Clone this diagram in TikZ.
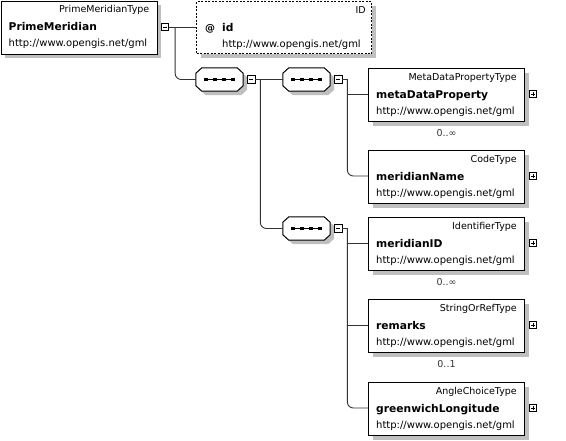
\documentclass[tikz,border=0pt]{standalone}
\usepackage{fontspec}
\setmainfont{DejaVu Sans}
\usetikzlibrary{shadows, positioning}

\newcommand{\gmlns}{http://www.opengis.net/gml}
% box of an element: name, position, type, label
\newcommand{\elembox}[4]{%
  \node[elem] (#1) at (#2) {};
  \node[typetxt] (#1-type) at ([xshift=-8pt,yshift=-12pt]#1.north east) {#3};
  \node[nametxt] (#1-name) at ([xshift=8pt,yshift=-30pt]#1.north west) {#4};
  \node[urltxt] (#1-url) at ([xshift=8pt,yshift=-46pt]#1.north west) {\gmlns};
}

\begin{document}
\begin{tikzpicture}[x=1pt,y=-1pt,
  boxshadow/.style={drop shadow={shadow xshift=4pt,shadow yshift=-4pt,fill=black!25,opacity=1}},
  elem/.style={draw, fill=white, line width=1pt, anchor=north west, inner sep=0pt,
    minimum width=156pt, minimum height=53pt, boxshadow},
  attr/.style={elem, dash pattern=on 2pt off 1.5pt, minimum width=175pt, minimum height=52pt},
  seq/.style={inner sep=0pt, minimum width=47pt, minimum height=23pt},
  octa/.style={draw, fill=white, line width=1pt, boxshadow},
  typetxt/.style={inner sep=0pt, anchor=base east, font=\fontsize{9.5}{11}\selectfont},
  nametxt/.style={inner sep=0pt, anchor=base west, font=\fontsize{10.7}{12}\selectfont\bfseries},
  urltxt/.style={inner sep=0pt, anchor=base west, font=\fontsize{10}{12}\selectfont},
  card/.style={inner sep=0pt, anchor=base, text=black!80, font=\fontsize{9.5}{11}\selectfont},
  pmbox/.style={draw, fill=white, line width=0.8pt, inner sep=0pt, minimum size=7.5pt},
  minusbox/.style={pmbox, path picture={\draw[line width=0.8pt]
    ([xshift=1.6pt]path picture bounding box.west) -- ([xshift=-1.6pt]path picture bounding box.east);}},
  plusbox/.style={pmbox, path picture={\draw[line width=0.7pt]
    ([xshift=1.6pt]path picture bounding box.west) -- ([xshift=-1.6pt]path picture bounding box.east)
    ([yshift=-1.6pt]path picture bounding box.north) -- ([yshift=1.6pt]path picture bounding box.south);}},
  conn/.style={draw=black!80, line width=0.9pt}
]
\useasboundingbox (0,0) rectangle (566,440);

% root element and its attribute
\elembox{pm}{0.5,0.5}{PrimeMeridianType}{PrimeMeridian}
\node[minusbox] (pm-minus) at ([xshift=7.5pt,yshift=-26.5pt]pm.north east) {};

\node[attr] (id) at (196,1) {};
\node[typetxt] (id-type) at ([xshift=-6pt,yshift=-12pt]id.north east) {ID};
\node[urltxt, font=\fontsize{10}{12}\selectfont\bfseries] (id-at) at ([xshift=9pt,yshift=-30pt]id.north west) {@};
\node[nametxt] (id-name) at ([xshift=26pt,yshift=-30pt]id.north west) {id};
\node[urltxt] (id-url) at ([xshift=26pt,yshift=-46pt]id.north west) {\gmlns};

% sequences
\node[seq] (seq1) at (219.5,79.5) {};
\node[seq] (seq2) at (306.5,79.5) {};
\node[seq] (seq3) at (306.5,228.5) {};
\foreach \s in {seq1,seq2,seq3} {
  \draw[octa] ([xshift=6pt]\s.north west) -- ([xshift=-6pt]\s.north east)
    -- ([yshift=-5.5pt]\s.north east) -- ([yshift=5.5pt]\s.south east)
    -- ([xshift=-6pt]\s.south east) -- ([xshift=6pt]\s.south west)
    -- ([yshift=5.5pt]\s.south west) -- ([yshift=-5.5pt]\s.north west) -- cycle;
  \node[minusbox] (\s-minus) at ([xshift=8pt]\s.east) {};
  \draw[line width=0.8pt] ([xshift=-13.5pt]\s.center) -- ([xshift=13.5pt]\s.center);
  \foreach \d in {-13.5,-4.5,4.5,13.5}
    \fill ([xshift=\d pt]\s.center) +(-1.7pt,-1.7pt) rectangle +(1.7pt,1.7pt);
}

% child elements
\elembox{mdp}{368,68}{MetaDataPropertyType}{metaDataProperty}
\elembox{mname}{368,150}{CodeType}{meridianName}
\elembox{mid}{368,217}{IdentifierType}{meridianID}
\elembox{rem}{368,299}{StringOrRefType}{remarks}
\elembox{gl}{368,382}{AngleChoiceType}{greenwichLongitude}
\foreach \e in {mdp,mname,mid,rem,gl}
  \node[plusbox] (\e-plus) at ([xshift=8pt,yshift=-26pt]\e.north east) {};

\node[card] (mdp-card) at ([yshift=-14pt]mdp.south) {0..∞};
\node[card] (mid-card) at ([yshift=-14pt]mid.south) {0..∞};
\node[card] (rem-card) at ([yshift=-14pt]rem.south) {0..1};

% connectors
\coordinate (pm-fork) at ([xshift=6pt]pm-minus.east);
\draw[conn] (pm-minus.east) -- (pm-minus.east -| id.west);
\draw[conn, rounded corners=6pt] (pm-fork) |- (seq1.west);

\coordinate (seq1-fork) at ([xshift=5pt]seq1-minus.east);
\draw[conn] (seq1-minus.east) -- (seq2.west);
\draw[conn, rounded corners=6pt] (seq1-fork) |- (seq3.west);

\coordinate (seq2-fork) at ([xshift=5pt]seq2-minus.east);
\draw[conn] (seq2-minus.east) -- (seq2-fork) |- ([yshift=-26pt]mdp.north west);
\draw[conn, rounded corners=6pt] (seq2-fork) |- ([yshift=-26pt]mname.north west);

\coordinate (seq3-fork) at ([xshift=5pt]seq3-minus.east);
\draw[conn] (seq3-minus.east) -- (seq3-fork) |- ([yshift=-26pt]mid.north west);
\draw[conn] (seq3-fork) |- ([yshift=-26pt]rem.north west);
\draw[conn, rounded corners=6pt] (seq3-fork) |- ([yshift=-26pt]gl.north west);
\end{tikzpicture}
\end{document}
